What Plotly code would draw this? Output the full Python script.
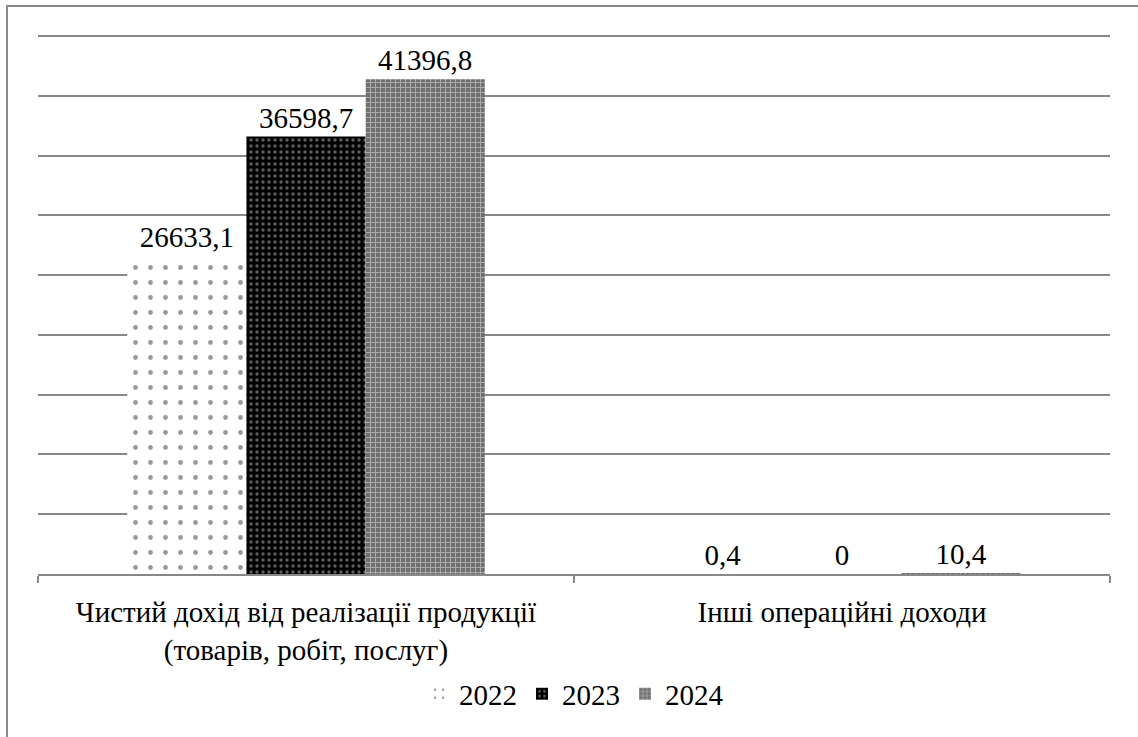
import plotly.graph_objects as go

categories = ["Чистий дохід від реалізації продукції<br>(товарів, робіт, послуг)",
              "Інші операційні доходи"]
years = ["2022", "2023", "2024"]
values_2022 = [26633.1, 0.4]
values_2023 = [36598.7, 0.0]
values_2024 = [41396.8, 10.4]

series = {"2022": values_2022, "2023": values_2023, "2024": values_2024}

styles = {
    "2022": dict(color="white", pattern=dict(shape=".", fgcolor="#333333", bgcolor="white",
                                            size=15, solidity=0.08)),
    "2023": dict(color="black", pattern=dict(shape=".", fgcolor="#bbbbbb", bgcolor="black",
                                            size=6, solidity=0.25)),
    "2024": dict(color="#6f6f6f", pattern=dict(shape="+", fgcolor="#e8e8e8", bgcolor="#6f6f6f",
                                              size=5, solidity=0.35)),
}

def fmt(v):
    return f"{v:g}".replace(".", ",")

FONT = "Liberation Serif"
FS = 29

fig = go.Figure()
for y in years:
    vals = series[y]
    fig.add_trace(go.Bar(
        name=y, x=categories, y=vals,
        text=[fmt(v) for v in vals], textposition="outside",
        textfont=dict(family=FONT, size=FS, color="black"),
        cliponaxis=False,
        marker=dict(color=styles[y]["color"], pattern=styles[y]["pattern"],
                    line=dict(width=0)),
    ))

fig.update_layout(
    width=1138, height=737,
    margin=dict(l=38, r=28, t=35, b=163),
    paper_bgcolor="white", plot_bgcolor="white",
    barmode="group", bargap=0.333, bargroupgap=0,
    font=dict(family=FONT, size=FS, color="black"),
    showlegend=True,
    legend=dict(orientation="h", x=0.5, xanchor="center", y=-0.175, yanchor="top",
                font=dict(family=FONT, size=FS, color="black"), itemwidth=30,
                traceorder="normal"),
    xaxis=dict(showline=True, linecolor="#888888", linewidth=2,
               ticks="outside", tickson="boundaries", ticklen=7, tickcolor="#888888",
               tickwidth=2, showgrid=False, ticklabelstandoff=11,
               tickfont=dict(family=FONT, size=FS, color="black")),
    yaxis=dict(range=[0, 45100], dtick=5000, showticklabels=False, showgrid=True,
               gridcolor="#888888", gridwidth=2, zeroline=False, showline=False),
    shapes=[dict(type="rect", xref="paper", yref="paper",
                 x0=-0.0289, x1=1.2, y0=-0.5, y1=1.0539,
                 line=dict(color="#8a8a8a", width=2), fillcolor="rgba(0,0,0,0)")],
)

fig.write_html("out.html")
